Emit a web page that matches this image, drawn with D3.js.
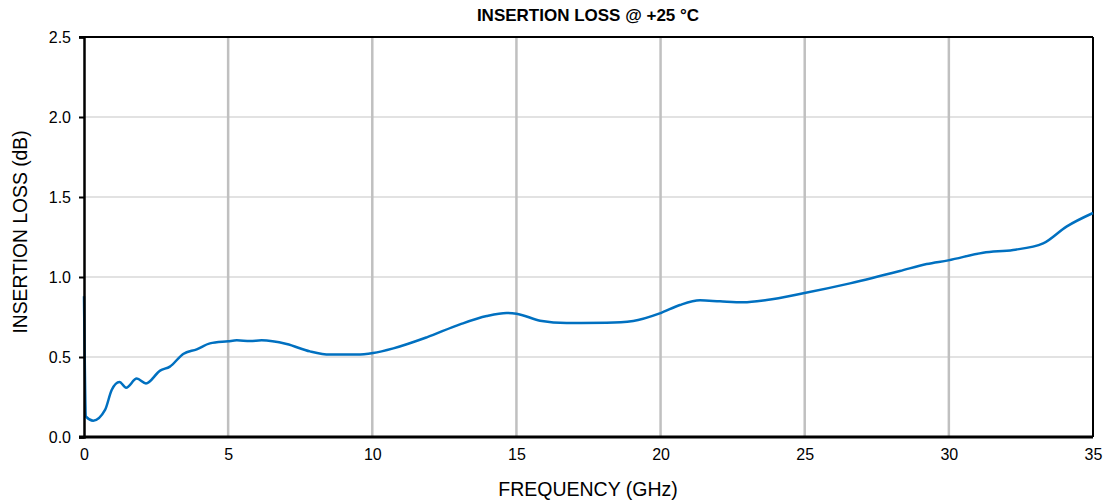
<!DOCTYPE html>
<html><head><meta charset="utf-8">
<script src="https://cdn.jsdelivr.net/npm/d3@7"></script>
<style>body{margin:0;background:#fff}svg{display:block;font-family:"Liberation Sans",Arial,sans-serif}</style>
</head><body><svg id="c" width="1105" height="503"></svg>
<script>
const freq = [0.0, 0.07, 0.32, 0.73, 0.96, 1.23, 1.46, 1.83, 2.15, 2.64, 2.98, 3.44, 3.91, 4.37, 5.0, 5.3, 5.76, 6.16, 7.03, 7.84, 8.53, 9.46, 10.03, 10.73, 11.89, 13.04, 13.97, 14.66, 15.0, 15.82, 16.74, 18.13, 19.05, 19.98, 20.67, 21.37, 22.06, 22.87, 23.68, 24.95, 26.57, 28.3, 29.23, 29.98, 31.19, 32.23, 33.27, 34.08, 35.0];
const loss = [0.88, 0.127, 0.102, 0.169, 0.294, 0.344, 0.308, 0.365, 0.335, 0.415, 0.44, 0.519, 0.548, 0.585, 0.598, 0.604, 0.60, 0.604, 0.581, 0.535, 0.515, 0.515, 0.525, 0.554, 0.623, 0.704, 0.756, 0.775, 0.771, 0.727, 0.712, 0.714, 0.725, 0.773, 0.825, 0.854, 0.848, 0.842, 0.856, 0.898, 0.96, 1.037, 1.081, 1.104, 1.152, 1.169, 1.21, 1.315, 1.40];
const xTicks = [0, 5, 10, 15, 20, 25, 30, 35];
const yTicks = [0.0, 0.5, 1.0, 1.5, 2.0, 2.5];
const title = "INSERTION LOSS @ +25 °C";
const xLabel = "FREQUENCY (GHz)";
const yLabel = "INSERTION LOSS (dB)";

const svg = d3.select("#c");
const L = 84, R = 1093, T = 37, B = 437;
const x = d3.scaleLinear().domain([0, 35]).range([L, R]);
const y = d3.scaleLinear().domain([0, 2.5]).range([B, T]);

// horizontal grid
svg.append("g").selectAll("line").data(yTicks.slice(1, -1)).join("line")
  .attr("x1", L).attr("x2", R).attr("y1", d => y(d)).attr("y2", d => y(d))
  .attr("stroke", "#d9d9d9").attr("stroke-width", 1.5);
// vertical grid
svg.append("g").selectAll("line").data(xTicks.slice(1, -1)).join("line")
  .attr("y1", T).attr("y2", B).attr("x1", d => x(d)).attr("x2", d => x(d))
  .attr("stroke", "#c0c0c0").attr("stroke-width", 2.5);

// frame top/right
svg.append("line").attr("x1", L - 5).attr("x2", R).attr("y1", T).attr("y2", T).attr("stroke", "#000").attr("stroke-width", 2);
svg.append("line").attr("x1", R).attr("x2", R).attr("y1", T).attr("y2", B).attr("stroke", "#000").attr("stroke-width", 2);

// line
const line = d3.line().x((d, i) => x(freq[i])).y(d => y(d)).curve(d3.curveMonotoneX);
svg.append("path").datum(loss).attr("d", line).attr("fill", "none")
  .attr("stroke", "#0070c0").attr("stroke-width", 2.5);

// y axis
const ya = svg.append("g").attr("transform", `translate(${L},0)`)
  .call(d3.axisLeft(y).tickValues(yTicks).tickFormat(d3.format(".1f")).tickSize(5).tickPadding(8));
ya.select(".domain").attr("stroke-width", 2.5);
ya.selectAll(".tick line").attr("stroke-width", 2);
ya.selectAll("text").attr("font-size", 16).attr("fill", "#000").attr("font-family", "Liberation Sans, Arial, sans-serif");

// x axis
const xa = svg.append("g").attr("transform", `translate(0,${B})`)
  .call(d3.axisBottom(x).tickValues(xTicks).tickSize(0).tickPadding(12));
xa.select(".domain").attr("stroke-width", 3).attr("d", `M${L - 5},0H${R}`);
xa.selectAll("text").attr("font-size", 16).attr("fill", "#000").attr("font-family", "Liberation Sans, Arial, sans-serif");

svg.append("text").attr("x", 588).attr("y", 21).attr("text-anchor", "middle")
  .attr("font-size", 17).attr("font-weight", "bold").text(title);
svg.append("text").attr("x", 588).attr("y", 496).attr("text-anchor", "middle")
  .attr("font-size", 19.5).text(xLabel);
svg.append("text").attr("transform", `translate(27,232) rotate(-90)`).attr("text-anchor", "middle")
  .attr("font-size", 19.3).text(yLabel);
</script></body></html>
